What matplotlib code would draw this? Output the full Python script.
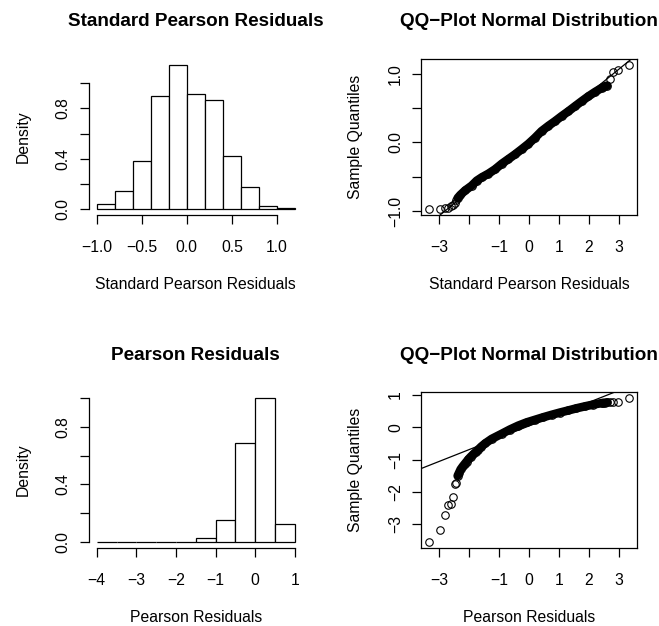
import matplotlib as mpl
mpl.use('Agg')
import matplotlib.pyplot as plt
import numpy as np

plt.rcParams['font.family'] = ['Liberation Sans', 'DejaVu Sans']

# histogram: standard pearson residuals (density per bin)
std_edges = [-1.0, -0.8, -0.6, -0.4, -0.2, 0.0, 0.2, 0.4, 0.6, 0.8, 1.0, 1.2]
std_density = [0.042, 0.145, 0.384, 0.903, 1.147, 0.916, 0.868, 0.426, 0.176, 0.024, 0.013]

# histogram: pearson residuals
pear_edges = [-4.0, -3.5, -3.0, -2.5, -2.0, -1.5, -1.0, -0.5, 0.0, 0.5, 1.0]
pear_density = [0.0017, 0.0017, 0.0017, 0.005, 0.004, 0.028, 0.152, 0.685, 1.0, 0.124]

# qq plot: standard pearson residuals (theoretical, sample)
std_qx = [-3.34, -2.99, -2.82, -2.70, -2.62, -2.55, -2.49, -2.44, -2.39,
          -2.30, -2.14, -1.92, -1.75, -1.58, -1.36, -1.14, -0.91, -0.69, -0.47,
          -0.25, -0.02, 0.20, 0.42, 0.65, 0.87, 1.09, 1.32, 1.54, 1.76, 1.99,
          2.21, 2.43, 2.49, 2.55, 2.62, 2.70, 2.82, 2.99, 3.34]
std_qy = [-0.973, -0.969, -0.955, -0.948, -0.925, -0.905, -0.875, -0.845, -0.81,
          -0.765, -0.70, -0.63, -0.557, -0.508, -0.455, -0.392, -0.31, -0.242, -0.174,
          -0.10, -0.02, 0.068, 0.165, 0.242, 0.31, 0.383, 0.455, 0.528, 0.60, 0.673,
          0.736, 0.794, 0.81, 0.82, 0.83, 0.92, 1.03, 1.05, 1.133]
std_dense = (8, 35)
std_line = (0.0, 0.355)   # intercept, slope of qqline

# qq plot: pearson residuals
pear_qx = [-3.34, -2.99, -2.82, -2.70, -2.62, -2.55, -2.49, -2.44,
           -2.39, -2.34, -2.29, -2.22, -2.16, -2.09, -2.03, -1.95, -1.86, -1.78,
           -1.70, -1.60, -1.47, -1.25, -0.91, -0.64, -0.36, -0.08, 0.20, 0.48,
           0.76, 1.04, 1.32, 1.59, 1.87, 2.15, 2.43, 2.49, 2.55, 2.62, 2.70,
           2.82, 2.99, 3.34]
pear_qy = [-3.55, -3.18, -2.72, -2.40, -2.37, -2.14, -1.74, -1.71,
           -1.50, -1.40, -1.30, -1.21, -1.14, -1.06, -0.99, -0.91, -0.83, -0.76,
           -0.69, -0.60, -0.50, -0.36, -0.20, -0.07, 0.05, 0.15, 0.23, 0.31,
           0.385, 0.455, 0.52, 0.585, 0.645, 0.70, 0.745, 0.755, 0.76, 0.765, 0.77,
           0.78, 0.78, 0.91]
pear_dense = (8, 38)
pear_line = (0.04, 0.364)

W, H = 659, 626
TITLE_FS = 13.6
LAB_FS = 11.3
LW = 0.9


def r_range(vals):
    lo, hi = min(vals), max(vals)
    d = 0.04 * (hi - lo)
    return lo - d, hi + d


def add_ax(fig, left, top, w, h):
    return fig.add_axes([left / W, 1 - (top + h) / H, w / W, h / H])


def style(ax, title, xlabel, ylabel, w, h):
    ax.set_title(title, fontsize=TITLE_FS, fontweight='bold', pad=23.4)
    ax.set_xlabel(xlabel, fontsize=LAB_FS)
    ax.set_ylabel(ylabel, fontsize=LAB_FS)
    ax.xaxis.set_label_coords(0.5, -62 / h)
    ax.yaxis.set_label_coords(-58 / w, 0.5)
    ax.tick_params(direction='out', length=6.5, width=LW, labelsize=LAB_FS)
    ax.tick_params(axis='x', pad=11.5)
    ax.tick_params(axis='y', pad=6.5, labelrotation=90)
    for sp in ax.spines.values():
        sp.set_linewidth(LW)


def hist_panel(ax, edges, dens, xticks, xlabels, title, xlabel, w, h):
    ax.bar(edges[:-1], dens, width=np.diff(edges), align='edge',
           color='white', edgecolor='black', linewidth=LW)
    ax.set_xlim(r_range(edges))
    ax.set_ylim(r_range([0] + dens))
    ax.spines['top'].set_visible(False)
    ax.spines['right'].set_visible(False)
    yt = [0.0, 0.2, 0.4, 0.6, 0.8, 1.0]
    ax.spines['left'].set_bounds(yt[0], yt[-1])
    ax.spines['bottom'].set_bounds(xticks[0], xticks[-1])
    ax.set_yticks(yt, ['0.0', '', '0.4', '', '0.8', ''])
    ax.set_xticks(xticks, xlabels)
    style(ax, title, xlabel, 'Density', w, h)


def qq_panel(ax, qx, qy, dense, line, yticks, ylabels, xlabel, w, h):
    i0, i1 = dense
    # dense run of overlapping circles -> solid band
    ax.plot(qx[i0:i1], qy[i0:i1], '-', color='black', lw=6.2, solid_capstyle='round')
    ax.plot(qx, qy, 'o', ms=5.4, mfc='none', mec='black', mew=0.8)
    ax.axline((0, line[0]), slope=line[1], color='black', lw=LW)
    ax.set_xlim(r_range(qx))
    ax.set_ylim(r_range(qy))
    ax.set_xticks([-3, -2, -1, 0, 1, 2, 3], ['\u22123', '', '\u22121', '0', '1', '2', '3'])
    ax.set_yticks(yticks, ylabels)
    style(ax, 'QQ\u2212Plot Normal Distribution', xlabel, 'Sample Quantiles', w, h)


fig = plt.figure(figsize=(W / 100, H / 100), dpi=100)

ax1 = add_ax(fig, 88.8, 59, 214, 156)
hist_panel(ax1, std_edges, std_density, [-1.0, -0.5, 0.0, 0.5, 1.0],
           ['\u22121.0', '\u22120.5', '0.0', '0.5', '1.0'],
           'Standard Pearson Residuals', 'Standard Pearson Residuals', 214, 156)

ax2 = add_ax(fig, 421.3, 59, 215.4, 156)
qq_panel(ax2, std_qx, std_qy, std_dense, std_line, [-1.0, -0.5, 0.0, 0.5, 1.0],
         ['\u22121.0', '', '0.0', '', '1.0'], 'Standard Pearson Residuals', 215.4, 156)

ax3 = add_ax(fig, 88.8, 392, 214, 156)
hist_panel(ax3, pear_edges, pear_density, [-4, -3, -2, -1, 0, 1],
           ['\u22124', '\u22123', '\u22122', '\u22121', '0', '1'],
           'Pearson Residuals', 'Pearson Residuals', 214, 156)

ax4 = add_ax(fig, 421.3, 392, 215.4, 156)
qq_panel(ax4, pear_qx, pear_qy, pear_dense, pear_line, [-3, -2, -1, 0, 1],
         ['\u22123', '\u22122', '\u22121', '0', '1'], 'Pearson Residuals', 215.4, 156)

for ax in (ax1, ax2, ax3, ax4):
    for lab in ax.get_yticklabels():
        lab.set_va('center')

fig.savefig('out.png', dpi=100)
